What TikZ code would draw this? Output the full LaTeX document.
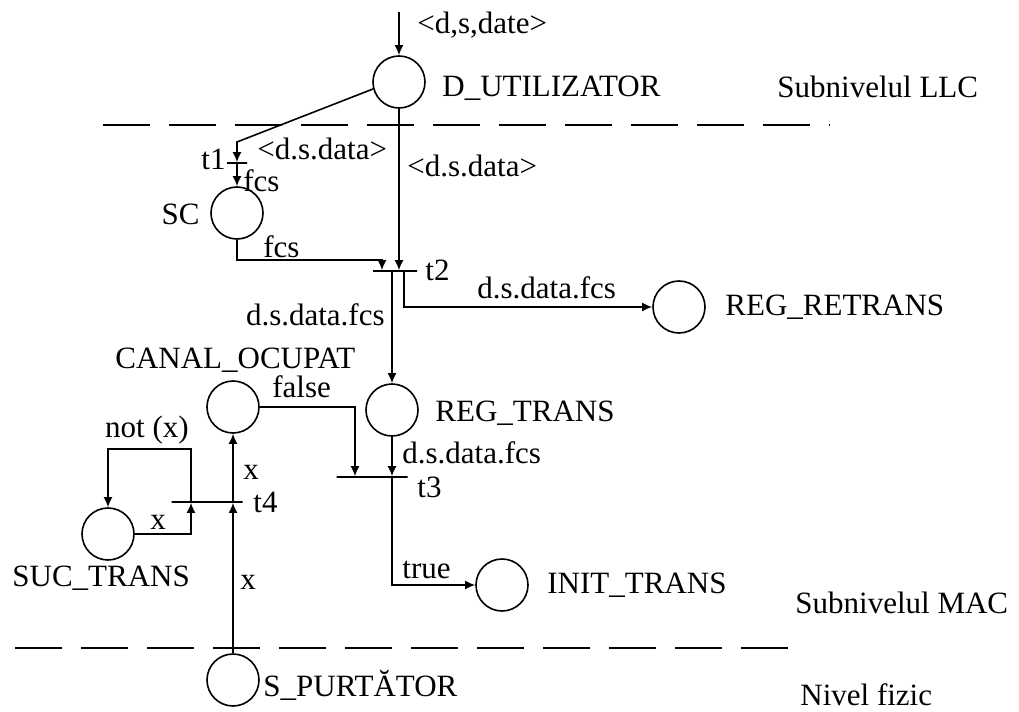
\documentclass[tikz,border=0pt]{standalone}
\usepackage{fontspec}
\setmainfont{Liberation Serif}
\usetikzlibrary{arrows.meta,calc}
\tikzset{every node/.style={font=\fontsize{15.5}{18}\selectfont},
 place/.style={circle,draw,line width=.8pt,minimum size=26pt,inner sep=0pt},
 bar/.style={draw,line width=.8pt,inner sep=0pt,minimum height=0pt},
 arc/.style={-{Latex[length=5pt,width=4.5pt]},line width=.8pt},
 lbl/.style={inner sep=0pt,anchor=west},
 layer/.style={line width=.8pt,dash pattern=on 23.5pt off 9.5pt}}

\begin{document}
\begin{tikzpicture}[x=.5pt,y=-.5pt]

\path[use as bounding box] (0,0) rectangle (1019,712);
% places
\node[place] (du) at (399,82) {};
\node[place] (sc) at (237,213) {};
\node[place] (canal) at (233,407) {};
\node[place] (regtr) at (392,410) {};
\node[place] (regre) at (679,307) {};
\node[place] (init) at (502,585) {};
\node[place] (suc) at (108,534) {};
\node[place] (spurt) at (233,680) {};
% transitions
\node[bar,minimum width=10pt] (t1) at (237,163) {};
\node[bar,minimum width=22pt] (t2) at (395,271) {};
\node[bar,minimum width=35.5pt] (t3) at (372,477) {};
\node[bar,minimum width=35.5pt] (t4) at (207,502) {};
% layer borders
\draw[layer] (103,125) -- (830,125);
\draw[layer] (15,648) -- (790,648);
% arcs
\coordinate (in) at (399,12);
\coordinate (k1) at (237,142);
\coordinate (k2) at (382,260);
\coordinate (k3) at (404,271);
\coordinate (k5) at (191,449);
\draw[arc] (in) -- (du);
\draw[arc] (du.195) -- (k1) -- (t1);
\draw[arc] (t1) -- (sc);
\draw[arc] (du) -- (du |- t2.north);
\draw[arc] (sc) |- (k2) -- (k2 |- t2.north);
\draw[arc] (t2.south -| regtr) -- (regtr);
\draw[arc] (k3) |- (regre);
\draw[arc] (canal) -| ([xshift=-8.5pt]t3.north);
\draw[arc] (regtr) -- (regtr |- t3.north);
\draw[arc] (t3.south -| regtr) |- (init);
\draw[arc] (t4.north -| canal) -- (canal);
\draw[arc] (spurt) -- (spurt |- t4.south);
\draw[arc] (suc) -| (k5 |- t4.south);
\draw[arc] (k5 |- t4.north) |- (k5 -| suc) -- (suc);
% labels
\node[lbl] (lin) at (417,25) {<d,s,date>};
\node[lbl] (ldu) at (442,88) {D\_UTILIZATOR};
\node[lbl] (lllc) at (777,87) {Subnivelul LLC};
\node[lbl] (la1) at (257,149) {<d.s.data>};
\node[lbl] (la2) at (407,166) {<d.s.data>};
\node[lbl,anchor=east] (lt1) at (226,159) {t1};
\node[lbl] (la3) at (243,181) {fcs};
\node[lbl,anchor=east] (lsc) at (200,214) {SC};
\node[lbl] (la4) at (263,247) {fcs};
\node[lbl] (lt2) at (425,270) {t2};
\node[lbl] (la5) at (477,288) {d.s.data.fcs};
\node[lbl] (lregre) at (725,307) {REG\_RETRANS};
\node[lbl,anchor=east] (la6) at (385,315) {d.s.data.fcs};
\node[lbl] (lcanal) at (115,360) {CANAL\_OCUPAT};
\node[lbl] (la7) at (272,387) {false};
\node[lbl] (lregtr) at (435,413) {REG\_TRANS};
\node[lbl,anchor=center] (la8) at (147,430) {not (x)};
\node[lbl] (la9) at (402,453) {d.s.data.fcs};
\node[lbl] (la10) at (243,472) {x};
\node[lbl] (lt3) at (417,487) {t3};
\node[lbl] (lt4) at (253,502) {t4};
\node[lbl] (la11) at (150,522) {x};
\node[lbl] (la12) at (402,570) {true};
\node[lbl] (lsuc) at (12,578) {SUC\_TRANS};
\node[lbl] (la13) at (240,582) {x};
\node[lbl] (linit) at (547,585) {INIT\_TRANS};
\node[lbl] (lmac) at (795,603) {Subnivelul MAC};
\node[lbl] (lspurt) at (263,685) {S\_PURTĂTOR};
\node[lbl] (lfiz) at (800,695) {Nivel fizic};

\end{tikzpicture}
\end{document}
